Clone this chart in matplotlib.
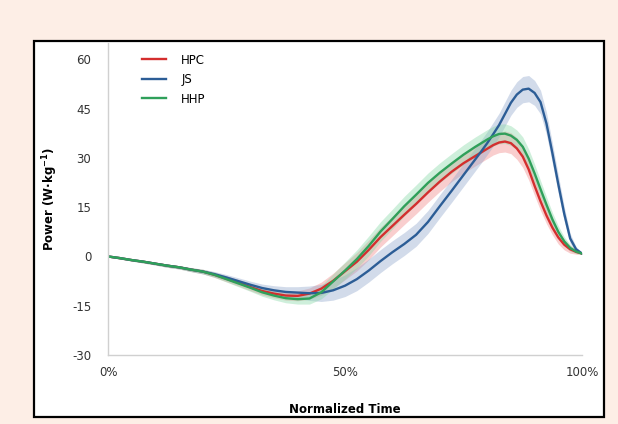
import numpy as np
import matplotlib
matplotlib.use('Agg')
import matplotlib.pyplot as plt
from matplotlib.patches import Rectangle

plt.rcParams['axes.unicode_minus'] = False
plt.rcParams['mathtext.default'] = 'bf'

# 数据（按图读取，归一化时间 0-100%，峰值附近读得更密）
time_pct = [0, 2.5, 5, 7.5, 10, 12.5, 15, 17.5, 20, 22.5, 25, 27.5, 30, 32.5,
            35, 37.5, 40, 42.5, 45, 47.5, 50, 52.5, 55, 57.5, 60, 62.5, 65,
            67.5, 70, 72.5, 75, 76.25, 77.5, 78.75, 80, 81.25, 82.5, 83.75,
            85, 86.25, 87.5, 88.75, 90, 91.25, 92.5, 93.75, 95, 96.25, 97.5,
            98.75, 100]

hpc = [0, -0.5, -1.1, -1.6, -2.2, -2.8, -3.3, -4.0, -4.6, -5.6, -6.8, -8.0,
       -9.3, -10.5, -11.3, -11.9, -12.0, -11.3, -9.8, -7.4, -4.5, -1.6, 2.0,
       5.9, 9.3, 12.7, 16.0, 19.5, 22.8, 25.8, 28.4, 29.5, 30.6, 31.7, 32.8,
       33.9, 34.7, 35.0, 34.5, 32.9, 30.4, 26.5, 21.5, 16.8, 12.5, 8.8, 5.8,
       3.6, 2.2, 1.4, 0.9]
js = [0, -0.5, -1.1, -1.6, -2.2, -2.8, -3.3, -4.0, -4.6, -5.4, -6.4, -7.5,
      -8.6, -9.6, -10.3, -10.8, -11.0, -11.2, -11.1, -10.3, -8.9, -6.9, -4.3,
      -1.4, 1.3, 3.8, 6.6, 10.5, 15.3, 20.0, 24.8, 27.2, 29.6, 32.0, 34.5,
      37.2, 40.0, 43.4, 46.8, 49.3, 50.8, 51.1, 49.8, 47.0, 40.5, 31.5, 22.0,
      13.0, 5.5, 2.2, 0.9]
hhp = [0, -0.5, -1.1, -1.6, -2.2, -2.8, -3.3, -4.0, -4.6, -5.6, -6.9, -8.2,
       -9.5, -10.9, -11.9, -12.7, -13.0, -12.8, -10.9, -7.6, -4.3, -0.8, 3.2,
       7.6, 11.4, 15.3, 18.8, 22.4, 25.5, 28.3, 31.0, 32.2, 33.4, 34.5, 35.6,
       36.6, 37.3, 37.4, 36.8, 35.5, 33.4, 29.8, 25.3, 20.5, 15.8, 11.3, 7.5,
       4.6, 2.6, 1.5, 0.9]

# 标准差带宽
sd_hpc = [0.2, 0.3, 0.3, 0.4, 0.4, 0.5, 0.5, 0.6, 0.7, 0.8, 0.9, 1.0, 1.1,
          1.2, 1.3, 1.4, 1.5, 1.7, 2.0, 2.3, 2.6, 2.8, 3.0, 3.0, 3.0, 3.0,
          3.0, 3.0, 3.0, 3.0, 3.0, 3.0, 3.0, 3.0, 3.0, 3.0, 3.1, 3.2, 3.2,
          3.3, 3.3, 3.2, 3.0, 2.8, 2.5, 2.2, 2.0, 1.6, 1.2, 0.7, 0.3]
sd_js = [0.2, 0.3, 0.3, 0.4, 0.4, 0.5, 0.5, 0.6, 0.7, 0.8, 0.9, 1.0, 1.1,
         1.2, 1.4, 1.6, 1.8, 2.2, 2.6, 3.0, 3.3, 3.5, 3.5, 3.5, 3.5, 3.5,
         3.5, 3.5, 3.5, 3.5, 3.5, 3.5, 3.5, 3.5, 3.5, 3.6, 3.6, 3.7, 3.8,
         3.9, 4.0, 4.0, 3.8, 3.6, 3.4, 3.1, 2.8, 2.2, 1.5, 0.8, 0.3]
sd_hhp = [0.2, 0.3, 0.3, 0.4, 0.4, 0.5, 0.5, 0.6, 0.7, 0.8, 0.9, 1.0, 1.1,
          1.2, 1.3, 1.4, 1.5, 1.7, 2.0, 2.3, 2.6, 2.8, 3.0, 3.0, 3.0, 3.0,
          3.0, 3.0, 3.0, 3.0, 3.0, 3.0, 3.0, 3.0, 3.0, 3.0, 3.0, 3.0, 3.0,
          3.0, 3.0, 2.9, 2.8, 2.6, 2.4, 2.1, 1.8, 1.4, 1.0, 0.6, 0.3]

series_names = ['HPC', 'JS', 'HHP']
y_ticks = [-30, -15, 0, 15, 30, 45, 60]
x_ticks = [0, 50, 100]
x_tick_labels = ['0%', '50%', '100%']

line_colors = ['#D42E2E', '#2C5D96', '#2FA05A']
band_colors = ['#F08585', '#8FA6CC', '#86D8A6']

fig = plt.figure(figsize=(6.18, 4.24), dpi=100)
fig.patch.set_facecolor('#FDEEE6')

# 黑色外框（放在坐标轴下面）
fig.patches.append(Rectangle((34 / 618, 1 - 417 / 424), 570 / 618, 376 / 424,
                             transform=fig.transFigure, facecolor='white',
                             edgecolor='black', linewidth=1.6, zorder=-10))

ax = fig.add_axes([108 / 618, 1 - 355 / 424, 474 / 618, 312 / 424])
ax.set_facecolor('none')

x = np.array(time_pct)
for mean, sd, bc in zip([hpc, js, hhp], [sd_hpc, sd_js, sd_hhp], band_colors):
    mean = np.array(mean)
    sd = np.array(sd)
    ax.fill_between(x, mean - sd, mean + sd, color=bc, alpha=0.4, linewidth=0)

for name, mean, lc in zip(series_names, [hpc, js, hhp], line_colors):
    ax.plot(x, mean, color=lc, linewidth=1.7, label=name,
            solid_joinstyle='round')

ax.set_xlim(0, 100)
ax.set_ylim(-30, 65)
ax.set_yticks(y_ticks)
ax.set_xticks(x_ticks)
ax.set_xticklabels(x_tick_labels)

for side in ['top', 'right']:
    ax.spines[side].set_visible(False)
for side in ['left', 'bottom']:
    ax.spines[side].set_color('#D0D0D0')
    ax.spines[side].set_linewidth(1.0)
ax.tick_params(length=0, labelsize=8.5, labelcolor='#333333')
ax.tick_params(axis='y', pad=12)
ax.tick_params(axis='x', pad=8)

ax.set_ylabel('Power (W·kg$^{-1}$)', fontsize=8.5, fontweight='bold',
              labelpad=9)
ax.set_xlabel('Normalized Time', fontsize=8.5, fontweight='bold', labelpad=17)

ax.legend(loc='upper left', bbox_to_anchor=(0.05, 1.0), frameon=False,
          fontsize=8.5, handlelength=2.0, handletextpad=1.3, labelspacing=0.55)

plt.savefig('out.png', dpi=100, facecolor=fig.get_facecolor())
